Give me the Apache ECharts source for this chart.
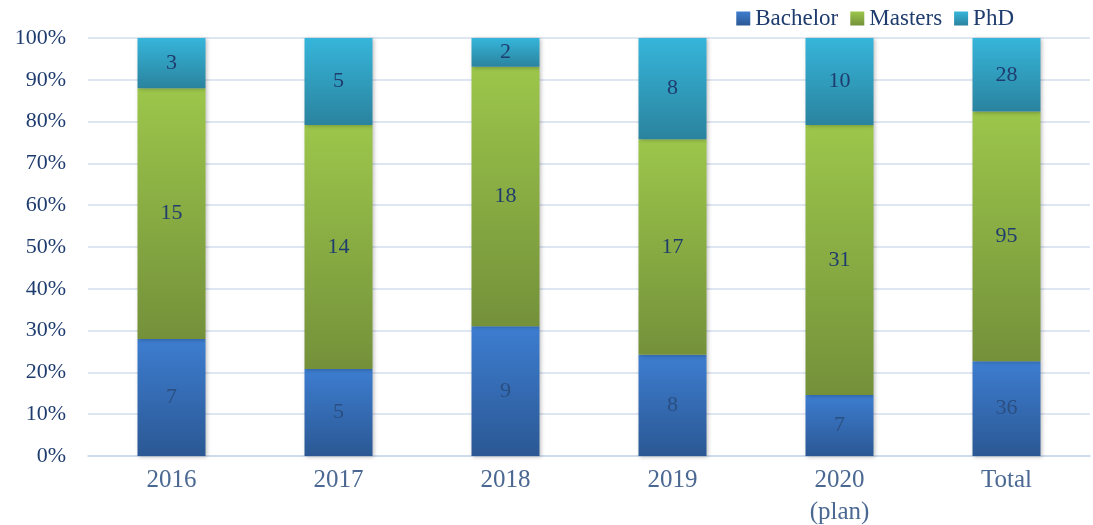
<!DOCTYPE html>
<html><head><meta charset="utf-8">
<script src="https://cdn.jsdelivr.net/npm/echarts@6/dist/echarts.min.js"></script>
<style>html,body{margin:0;padding:0;background:#fff}#c{width:1093px;height:525px}</style>
</head><body><div id="c"></div>
<script>
const categories = ['2016','2017','2018','2019','2020\n(plan)','Total'];
const bachelor = [7,5,9,8,7,36];
const masters = [15,14,18,17,31,95];
const phd = [3,5,2,8,10,28];
const yTicks = ['0%','10%','20%','30%','40%','50%','60%','70%','80%','90%','100%'];

const totals = categories.map((_,i)=>bachelor[i]+masters[i]+phd[i]);
const pct = arr => arr.map((v,i)=>({value: v/totals[i]*100, raw: v}));
const font = '"Liberation Serif","Times New Roman",serif';
function grad(top,bottom){return {type:'linear',x:0,y:0,x2:0,y2:1,colorStops:[{offset:0,color:top},{offset:1,color:bottom}]};}
const series = [
  {name:'Bachelor', data:pct(bachelor), c:grad('#3d7dd0','#2b5894'), lc:'#2a4f80'},
  {name:'Masters', data:pct(masters), c:grad('#9cc64b','#74913a'), lc:'#1f3c6e'},
  {name:'PhD', data:pct(phd), c:grad('#36b5da','#2a839e'), lc:'#1f3c6e'}
].map(s=>({
  name:s.name,type:'bar',stack:'a',barWidth:68,data:s.data,
  itemStyle:{color:s.c,shadowColor:'rgba(0,0,0,0.25)',shadowBlur:4,shadowOffsetX:1,shadowOffsetY:1},
  label:{show:true,position:'inside',formatter:p=>p.data.raw,color:s.lc,fontFamily:font,fontSize:22},
  emphasis:{disabled:true}
}));
const chart = echarts.init(document.getElementById('c'));
chart.setOption({
  animation:false,
  color:['#3a78c8','#8db543','#33afd3'],
  legend:{right:74,top:2,itemWidth:14,itemHeight:14,itemGap:12,icon:'rect',
    textStyle:{fontFamily:font,fontSize:23,color:'#1f3c6e'},
    data:['Bachelor','Masters','PhD']},
  grid:{left:88,right:3,top:38,bottom:69,containLabel:false,outerBoundsMode:'none'},
  xAxis:{type:'category',data:categories,
    axisLine:{lineStyle:{color:'#c9d7ea',width:1.5}},axisTick:{show:false},
    axisLabel:{fontFamily:font,fontSize:25,color:'#4a6892',margin:8,lineHeight:32}},
  yAxis:{type:'value',min:0,max:100,interval:10,
    axisLabel:{fontFamily:font,fontSize:22,color:'#1f3c6e',margin:22,formatter:v=>yTicks[Math.round(v/10)]},
    splitLine:{lineStyle:{color:'#d3deee',width:1.5}},axisLine:{show:false},axisTick:{show:false}},
  series:series
});
</script></body></html>
